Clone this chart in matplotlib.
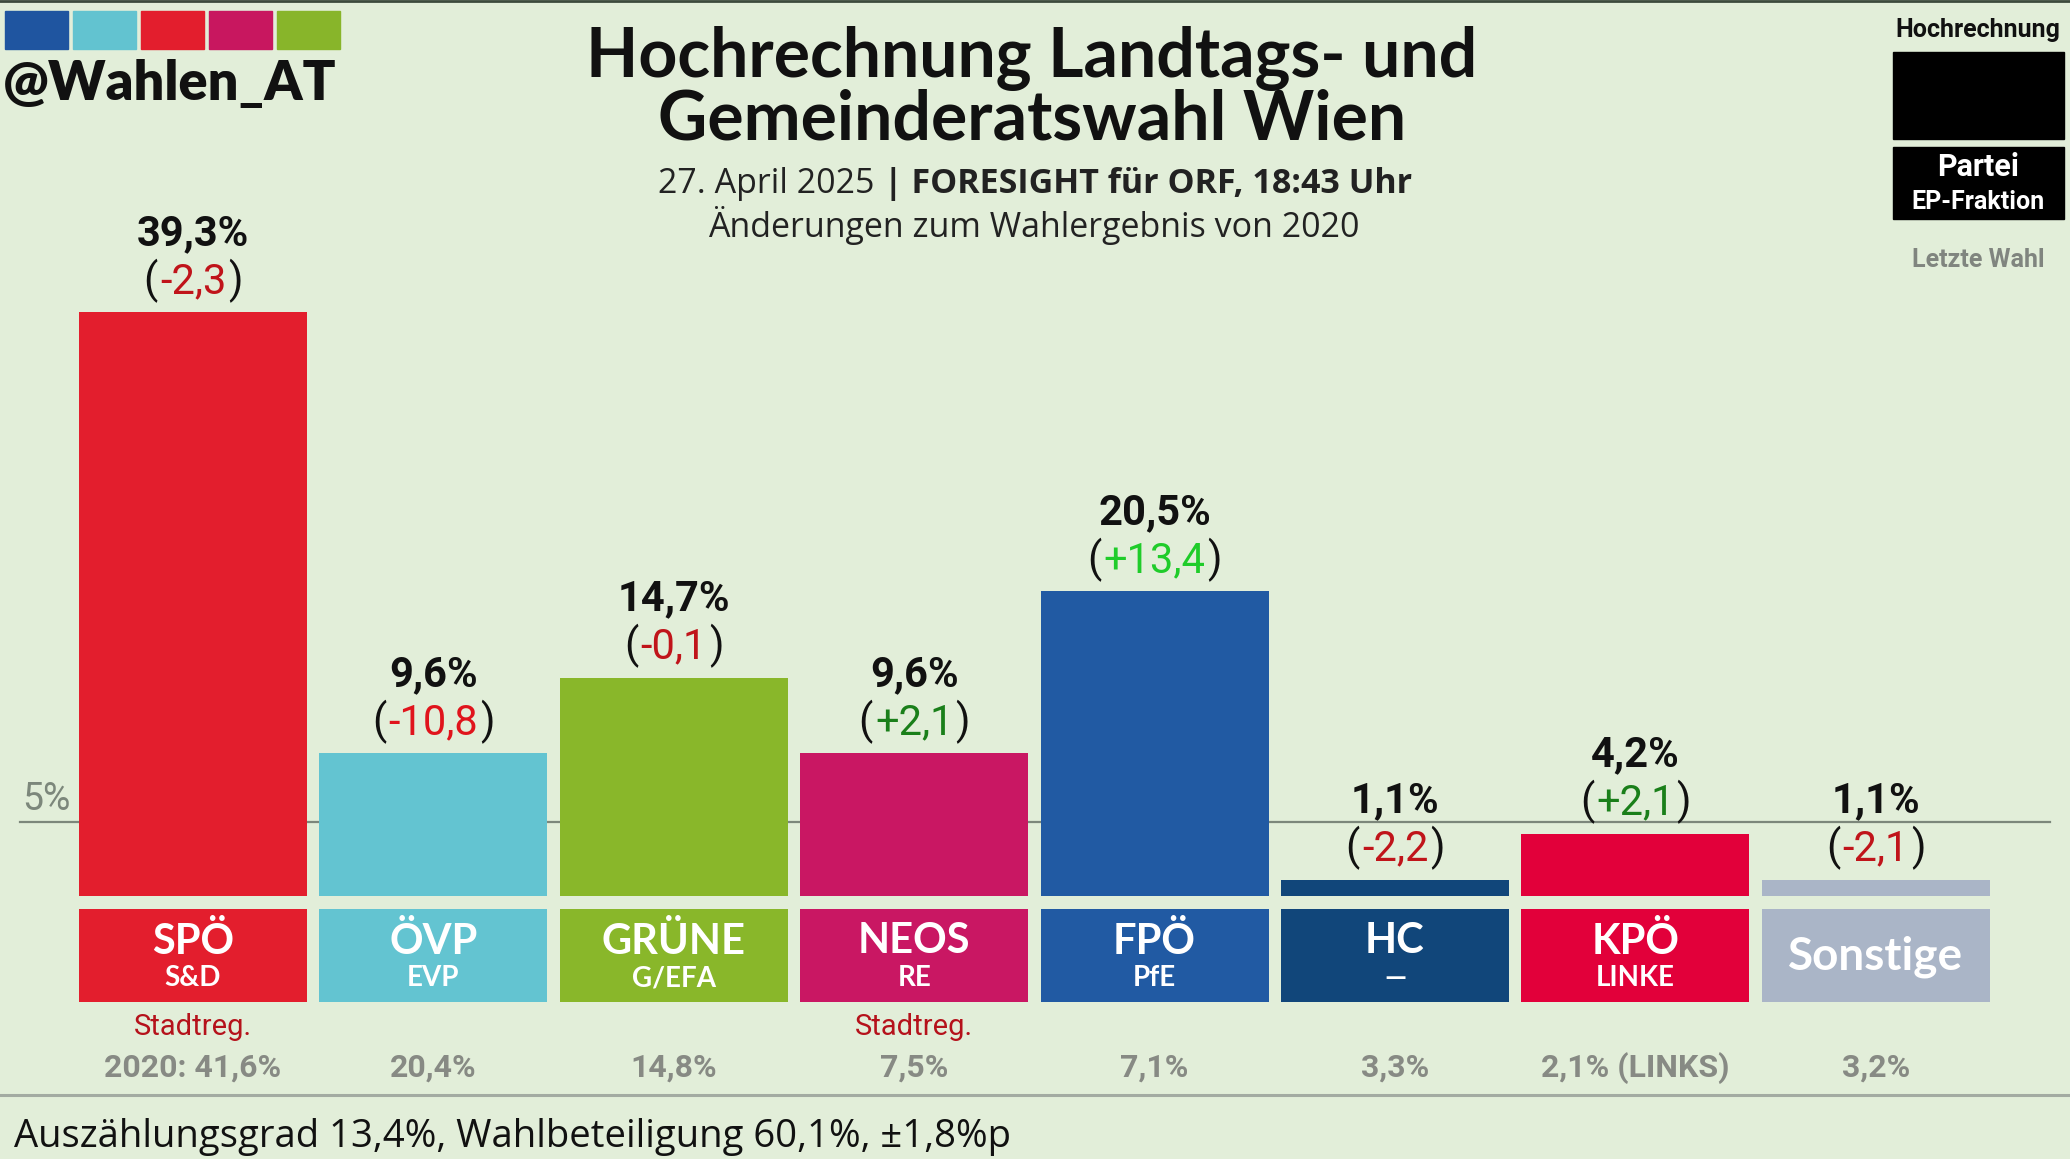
import matplotlib
matplotlib.use('Agg')
import matplotlib.pyplot as plt
from matplotlib.patches import Rectangle
from matplotlib.lines import Line2D

# ---------------- data ----------------
parties = ['SPÖ', 'ÖVP', 'GRÜNE', 'NEOS', 'FPÖ', 'HC', 'KPÖ', 'Sonstige']
groups = ['S&D', 'EVP', 'G/EFA', 'RE', 'PfE', '—', 'LINKE', '']
values = [39.3, 9.6, 14.7, 9.6, 20.5, 1.1, 4.2, 1.1]
changes = [-2.3, -10.8, -0.1, 2.1, 13.4, -2.2, 2.1, -2.1]
last_labels = ['2020: 41,6%', '20,4%', '14,8%', '7,5%', '7,1%', '3,3%', '2,1% (LINKS)', '3,2%']
notes = ['Stadtreg.', '', '', 'Stadtreg.', '', '', '', '']
colors = ['#e31e2d', '#63c4d1', '#89b72a', '#c91763', '#215aa3', '#11467a', '#e2003a', '#aab5c7']
threshold = 5
logo_colors = ['#1f55a0', '#62c3d0', '#e31e2d', '#c8175f', '#88b52a']

title_lines = ['Hochrechnung Landtags- und', 'Gemeinderatswahl Wien']
sub_regular = '27. April 2025 '
sub_bold = '| FORESIGHT für ORF, 18:43 Uhr'
sub2 = 'Änderungen zum Wahlergebnis von 2020'
footer = 'Auszählungsgrad 13,4%, Wahlbeteiligung 60,1%, ±1,8%p'
handle = '@Wahlen_AT'

# ---------------- layout ----------------
W, H, DPI = 2070, 1159, 100
BG = '#e2eed9'
BASE_PY = 896.0
PX_PER_PCT = 14.86
CENTER0 = 193.0
PITCH = 240.4
BAR_W = 228.0 / PITCH

def fx(px):
    return px / W

def fy(py):
    return 1 - py / H

def dy(py):
    return (BASE_PY - py) / PX_PER_PCT

fig = plt.figure(figsize=(W / DPI, H / DPI), dpi=DPI, facecolor=BG)
ax = fig.add_axes([0, 0, 1, 1])
ax.set_facecolor(BG)
ax.set_xlim(-CENTER0 / PITCH, (W - CENTER0) / PITCH)
ax.set_ylim(dy(H), dy(0))
ax.axis('off')

x = list(range(len(parties)))

# 5% threshold line
ax.axhline(threshold, xmin=20 / W, xmax=2050 / W, color='#7c877b', lw=1.6, zorder=0)
ax.annotate(f'{threshold}%', xy=((22 - CENTER0) / PITCH, threshold), xytext=(0, 12),
            textcoords='offset pixels', ha='left', va='baseline',
            fontsize=27, family='Roboto', color='#7c877b', zorder=1)

# bars
ax.bar(x, values, width=BAR_W, color=colors, zorder=2)

# party label boxes
box_bottom = dy(1002)
box_h = dy(909) - dy(1002)
ax.bar(x, [box_h] * len(x), bottom=box_bottom, width=BAR_W, color=colors, zorder=2)

renderer = fig.canvas.get_renderer()

for i, (v, c) in enumerate(zip(values, changes)):
    pct = f'{v:.1f}'.replace('.', ',') + '%'
    ax.annotate(pct, xy=(i, v), xytext=(0, 67), textcoords='offset pixels',
                ha='center', va='baseline', fontsize=30, fontweight='bold',
                family='Roboto', color='#111111', zorder=3)
    s = f'{c:+.1f}'.replace('.', ',')
    if c >= 0:
        col = '#1fcc2a' if c > 5 else '#1a7f1a'
    else:
        col = '#e0141c' if c < -5 else '#c0141a'
    t = ax.annotate(s, xy=(i, v), xytext=(0, 19), textcoords='offset pixels',
                    ha='center', va='baseline', fontsize=30, family='Roboto',
                    color=col, zorder=3)
    w = t.get_window_extent(renderer).width
    ax.annotate('(', xy=(i, v), xytext=(-w / 2 - 2, 19), textcoords='offset pixels',
                ha='right', va='baseline', fontsize=30, family='Roboto', color='#111111')
    ax.annotate(')', xy=(i, v), xytext=(w / 2 + 2, 19), textcoords='offset pixels',
                ha='left', va='baseline', fontsize=30, family='Roboto', color='#111111')

for i, (p, g) in enumerate(zip(parties, groups)):
    if g:
        ax.text(i, dy(941), p, ha='center', va='center', fontsize=30, fontweight='bold',
                family='Lato', color='white', zorder=3)
        ax.text(i, dy(978), g, ha='center', va='center', fontsize=20, fontweight='bold',
                family='Lato', color='white', zorder=3)
    else:
        ax.text(i, dy(957), p, ha='center', va='center', fontsize=33, fontweight='bold',
                family='Lato', color='white', zorder=3)

for i, (n, l) in enumerate(zip(notes, last_labels)):
    if n:
        ax.text(i, dy(1027), n, ha='center', va='center', fontsize=21, family='Roboto',
                color='#b5121b')
    ax.text(i, dy(1068), l, ha='center', va='center', fontsize=23, fontweight='bold',
            family='Roboto', color='#878a84')

# ---------------- header ----------------
fig.add_artist(Line2D([0, 1], [fy(1), fy(1)], color='#3c4a3c', lw=2))
for k, c in enumerate(logo_colors):
    fig.add_artist(Rectangle((fx(5 + 68 * k), fy(49)), fx(63), 38 / H, color=c))
fig.text(fx(3), fy(100), handle, ha='left', va='baseline', fontsize=39,
         fontweight='heavy', family='Lato', color='#111111')

fig.text(fx(1032), fy(77), title_lines[0], ha='center', va='baseline', fontsize=49,
         fontweight='bold', family='Lato', color='#111111')
fig.text(fx(1032), fy(140), title_lines[1], ha='center', va='baseline', fontsize=49,
         fontweight='bold', family='Lato', color='#111111')

t1 = fig.text(0, 0, sub_regular, fontsize=24.5, family='Open Sans', color='#222222')
t2 = fig.text(0, 0, sub_bold, fontsize=24.5, fontweight='bold', family='Open Sans', color='#222222')
w1 = t1.get_window_extent(renderer).width
w2 = t2.get_window_extent(renderer).width
left = 1035 - (w1 + w2) / 2
t1.set_position((fx(left), fy(193)))
t2.set_position((fx(left + w1), fy(193)))
t1.set_va('baseline'); t2.set_va('baseline')
fig.text(fx(1034), fy(237), sub2, ha='center', va='baseline', fontsize=24.5,
         family='Open Sans', color='#222222')

# right legend
fig.text(fx(1978), fy(30), 'Hochrechnung', ha='center', va='center', fontsize=18,
         fontweight='bold', family='Roboto', color='#111111')
fig.add_artist(Rectangle((fx(1893), fy(139)), fx(171), 87 / H, color='black'))
fig.add_artist(Rectangle((fx(1893), fy(219)), fx(171), 72 / H, color='black'))
fig.text(fx(1978), fy(167), 'Partei', ha='center', va='center', fontsize=22,
         fontweight='bold', family='Roboto', color='white')
fig.text(fx(1978), fy(202), 'EP-Fraktion', ha='center', va='center', fontsize=18,
         fontweight='bold', family='Roboto', color='white')
fig.text(fx(1978), fy(260), 'Letzte Wahl', ha='center', va='center', fontsize=18,
         fontweight='bold', family='Roboto', color='#80857f')

# ---------------- footer ----------------
fig.add_artist(Line2D([0, 1], [fy(1095), fy(1095)], color='#a3aba2', lw=2.2))
fig.text(fx(14), fy(1137), footer, ha='left', va='center', fontsize=27.5,
         family='Open Sans', color='#111111')

fig.savefig('out.png', dpi=DPI, facecolor=BG)
